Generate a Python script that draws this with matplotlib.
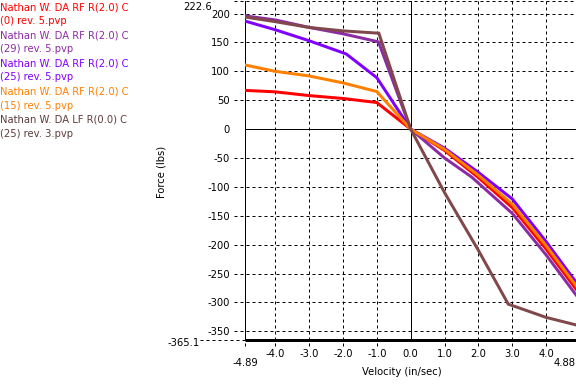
import matplotlib
matplotlib.use("Agg")
import matplotlib.pyplot as plt

plt.rcParams['font.family'] = ['DejaVu Sans']
plt.rcParams['lines.scale_dashes'] = False

# ---- data ----
series_names = [
    "Nathan W. DA RF R(2.0) C\n(0) rev. 5.pvp",
    "Nathan W. DA RF R(2.0) C\n(29) rev. 5.pvp",
    "Nathan W. DA RF R(2.0) C\n(25) rev. 5.pvp",
    "Nathan W. DA RF R(2.0) C\n(15) rev. 5.pvp",
    "Nathan W. DA LF R(0.0) C\n(25) rev. 3.pvp",
]
line_colors = ["#ff0000", "#8c2ca4", "#8000ff", "#ff8000", "#80484a"]
text_colors = ["#ff0000", "#8c2ca4", "#8000ff", "#ff8000", "#5f3c3c"]

v_red = [-4.89, -4.0, -3.0, -2.0, -1.0, 0.0, 1.0, 2.0, 3.0, 4.0, 4.88]
f_red = [67, 64.5, 58, 53, 46, 0, -37, -84, -136, -208, -277]

v_purple = [-4.89, -4.0, -3.0, -2.0, -0.95, 0.0, 1.0, 1.8, 3.0, 4.0, 4.88]
f_purple = [196, 189, 176, 165, 151, 0, -50, -83, -146, -218, -287]

v_violet = [-4.89, -4.0, -3.0, -1.9, -1.0, 0.0, 1.0, 2.0, 3.0, 4.0, 4.88]
f_violet = [187, 172, 153, 130, 89, 0, -33, -75, -121, -195, -265]

v_orange = [-4.89, -4.0, -3.0, -2.0, -1.0, 0.0, 1.0, 2.0, 3.0, 4.0, 4.88]
f_orange = [111, 100, 92, 80, 65, 0, -35, -80, -130, -202, -271]

v_brown = [-4.89, -4.0, -3.0, -2.0, -0.94, 0.0, 1.0, 2.0, 2.88, 4.0, 4.88]
f_brown = [194, 186, 176, 170, 166, 0, -110, -210, -303, -326, -339]

x_min, x_max = -4.89, 4.88
y_min, y_max = -365.1, 222.6
x_ticks = [-4.0, -3.0, -2.0, -1.0, 0.0, 1.0, 2.0, 3.0, 4.0]
y_ticks = [-350, -300, -250, -200, -150, -100, -50, 0, 50, 100, 150, 200]

# ---- figure ----
DPI = 72
fig = plt.figure(figsize=(576 / DPI, 384 / DPI), dpi=DPI)
ax = fig.add_axes([245 / 576, 44 / 384, 331 / 576, 339.5 / 384])
ax.set_xlim(x_min, x_max)
ax.set_ylim(y_min, y_max)

for s in ["top", "right"]:
    ax.spines[s].set_visible(False)
ax.spines["left"].set_linewidth(1.0)
ax.spines["bottom"].set_linewidth(3.0)
ax.spines["bottom"].set_capstyle("butt")

dash = (0, (3, 3))
ytrans = ax.get_yaxis_transform()
xtrans = ax.get_xaxis_transform()
ext_x = -11 / 331.0
ext_y = -6 / 339.5
for yv in y_ticks + [y_max, y_min]:
    if yv == 0:
        continue
    xs0 = ext_x if yv != y_min else -45 / 331.0
    ax.plot([xs0, 1], [yv, yv], transform=ytrans, color="black", lw=1.0,
            ls=dash, clip_on=False, zorder=1)
for xv in x_ticks + [x_min, x_max]:
    if xv == 0:
        continue
    ax.plot([xv, xv], [ext_y, 1], transform=xtrans, color="black", lw=1.0,
            ls=dash, clip_on=False, zorder=1)

ax.axhline(0, color="black", lw=1.0, zorder=1.5)
ax.axvline(0, color="black", lw=1.0, zorder=1.5)

all_v = [v_red, v_purple, v_violet, v_orange, v_brown]
all_f = [f_red, f_purple, f_violet, f_orange, f_brown]
for vv, ff, c in zip(all_v, all_f, line_colors):
    ax.plot(vv, ff, color=c, lw=3.0, solid_joinstyle="miter", zorder=3)

# ticks
ax.set_xticks(x_ticks)
ax.set_xticklabels([f"{t:.1f}" for t in x_ticks])
ax.set_yticks(y_ticks)
ax.set_yticklabels([str(t) for t in y_ticks])
ax.tick_params(axis="both", length=0, labelsize=10, colors="black")
ax.tick_params(axis="y", pad=15)
ax.tick_params(axis="x", pad=9)

ax.annotate("222.6", xy=(0, y_max), xycoords=("axes fraction", "data"),
            xytext=(-33, -7), textcoords="offset points", ha="right",
            va="center", fontsize=10)
ax.annotate("-365.1", xy=(0, y_min), xycoords=("axes fraction", "data"),
            xytext=(-45, -3), textcoords="offset points", ha="right",
            va="center", fontsize=10)
ax.annotate("-4.89", xy=(x_min, 0), xycoords=("data", "axes fraction"),
            xytext=(0, -23), textcoords="offset points", ha="center",
            va="center", fontsize=10)
ax.annotate("4.88", xy=(x_max, 0), xycoords=("data", "axes fraction"),
            xytext=(0, -23), textcoords="offset points", ha="right",
            va="center", fontsize=10)

fig.text(402 / 576, 1 - 372 / 384, "Velocity (in/sec)", ha="center",
         va="center", fontsize=10)
fig.text(161 / 576, 1 - 172 / 384, "Force (lbs)", ha="center", va="center",
         rotation=90, fontsize=10)

# legend-like text block
y0 = 7
for i, (name, c) in enumerate(zip(series_names, text_colors)):
    for j, line in enumerate(name.split("\n")):
        yy = y0 + (2 * i + j) * 14.1
        fig.text(0.5 / 576, 1 - yy / 384, line, ha="left", va="center",
                 fontsize=10, color=c)

fig.savefig("out.png", dpi=DPI)
